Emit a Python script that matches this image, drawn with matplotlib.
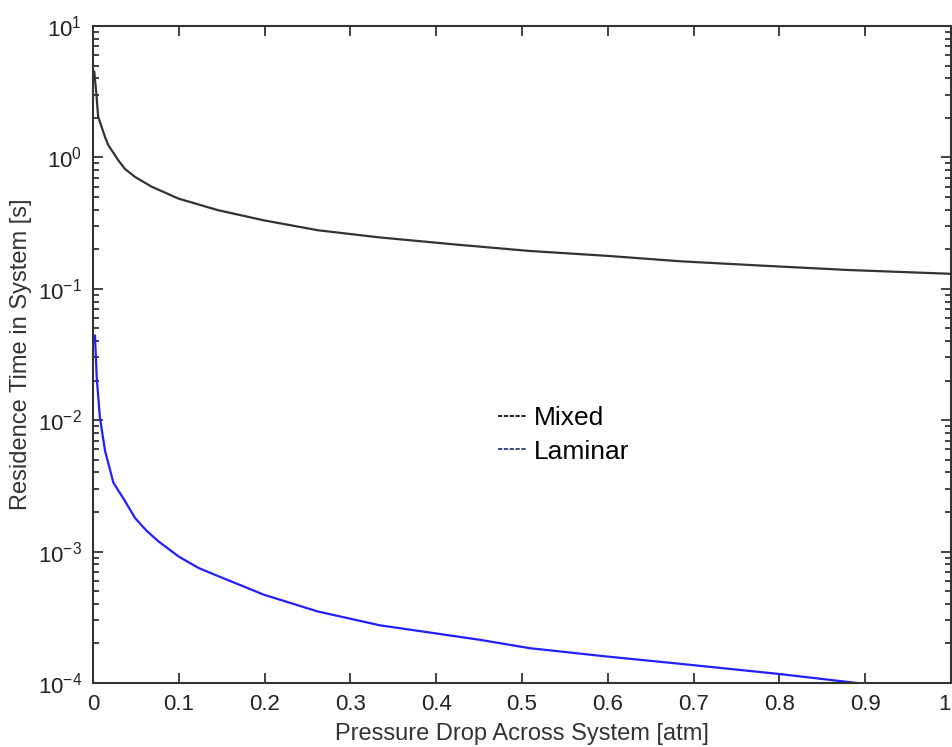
import matplotlib
matplotlib.use("Agg")
import matplotlib.pyplot as plt
from matplotlib.lines import Line2D

plt.rcParams['font.family'] = ['Liberation Sans', 'DejaVu Sans']
plt.rcParams['mathtext.default'] = 'regular'
plt.rcParams['axes.unicode_minus'] = False

# values
mixed_x = [0.0015, 0.004, 0.006, 0.01, 0.014, 0.0178, 0.0295, 0.037, 0.049, 0.068,
           0.0995, 0.119, 0.146, 0.199, 0.262, 0.334, 0.42, 0.509, 0.6,
           0.684, 0.78, 0.88, 1.0]
mixed_y = [4.49, 2.98, 2.04, 1.71, 1.43, 1.24, 0.95, 0.82, 0.71, 0.60,
           0.486, 0.446, 0.396, 0.332, 0.279, 0.246, 0.218, 0.194, 0.178,
           0.162, 0.150, 0.139, 0.130]

laminar_x = [0.0023, 0.0043, 0.008, 0.014, 0.0237, 0.037, 0.049, 0.062, 0.076, 0.0995,
             0.123, 0.146, 0.199, 0.262, 0.334, 0.451, 0.509, 0.599, 0.684, 0.80,
             0.89, 0.95, 1.0]
laminar_y = [0.044, 0.0212, 0.0105, 0.00586, 0.00335, 0.00244, 0.0018, 0.00145, 0.0012, 9.2e-4,
             7.5e-4, 6.5e-4, 4.7e-4, 3.5e-4, 2.75e-4, 2.13e-4, 1.84e-4, 1.59e-4, 1.4e-4, 1.17e-4,
             1.0e-4, 9.3e-5, 8.7e-5]

x_ticks = [0, 0.1, 0.2, 0.3, 0.4, 0.5, 0.6, 0.7, 0.8, 0.9, 1]
x_labels = ['0', '0.1', '0.2', '0.3', '0.4', '0.5', '0.6', '0.7', '0.8', '0.9', '1']

fig = plt.figure(figsize=(9.53, 7.47), dpi=100)
ax = fig.add_axes([0.0976, 0.0857, 0.9004, 0.8795])

ax.semilogy(mixed_x, mixed_y, color='#333333', lw=1.6)
ax.semilogy(laminar_x, laminar_y, color='#2020ff', lw=1.6)

ax.set_xlim(0, 1)
ax.set_ylim(1e-4, 1e1)
ax.set_xticks(x_ticks)
ax.set_xticklabels(x_labels)
ax.get_xticklabels()[-1].set_ha('right')

ax.tick_params(which='both', direction='in', top=True, right=True,
               labelsize=16, colors='#222222', width=1.2)
ax.tick_params(which='major', length=7, pad=8)
ax.tick_params(which='minor', length=4)
for s in ax.spines.values():
    s.set_linewidth(1.5)
    s.set_color('#333333')

ax.set_xlabel('Pressure Drop Across System [atm]', fontsize=17, color='#333333', labelpad=6)
ax.set_ylabel('Residence Time in System [s]', fontsize=17, color='#333333')

handles = [Line2D([], [], color='#222222', lw=1.4, ls=(0, (2.2, 0.8))),
           Line2D([], [], color='#3a4a8a', lw=1.4, ls=(0, (2.2, 0.8)))]
ax.legend(handles, ['Mixed', 'Laminar'], loc='upper left',
          bbox_to_anchor=(0.5226, 0.456), bbox_transform=fig.transFigure,
          frameon=False, fontsize=19, handlelength=1.05, handletextpad=0.3,
          labelspacing=0.35, borderpad=0, borderaxespad=0)

fig.savefig('out.png', dpi=100)
